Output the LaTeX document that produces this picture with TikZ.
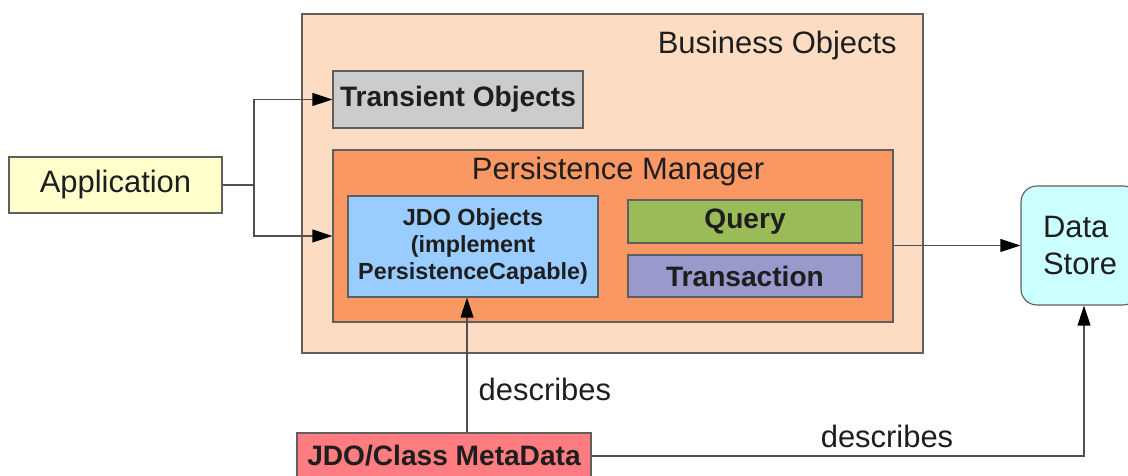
\documentclass[tikz,border=0pt]{standalone}
\usepackage{fontspec}
\setmainfont{Liberation Sans}
\usetikzlibrary{arrows.meta}

\definecolor{rahmen}{RGB}{95,95,95}
\definecolor{linie}{RGB}{80,80,80}
\definecolor{schrift}{RGB}{30,30,30}
\definecolor{pfirsich}{RGB}{252,220,194}
\definecolor{orange}{RGB}{250,152,100}
\definecolor{hellgrau}{RGB}{204,204,204}
\definecolor{hellblau}{RGB}{153,204,255}
\definecolor{gruen}{RGB}{155,187,89}
\definecolor{lila}{RGB}{153,153,204}
\definecolor{hellgelb}{RGB}{255,255,204}
\definecolor{hellcyan}{RGB}{204,255,255}
\definecolor{lachs}{RGB}{255,124,128}

\tikzset{
    kasten/.style={draw=rahmen, line width=0.8pt, inner sep=0pt, text=schrift},
    normal/.style={font=\fontsize{22}{26}\selectfont, text=schrift},
    fett/.style={font=\fontsize{20}{24}\selectfont\bfseries},
    pfeil/.style={draw=linie, line width=1pt, -{Triangle[length=5mm,width=3.2mm,color=black]}},
}

\begin{document}
\begin{tikzpicture}
        \useasboundingbox (0,0) rectangle (28.2,11.9);

        % Business Objects als grosser Rahmen
        \node[kasten, fill=pfirsich, minimum width=15.525cm, minimum height=8.475cm] (bo) at (15.3125,7.3125) {};
        \node[normal, anchor=east, inner sep=0pt] (botitel) at (22.425,10.75) {Business Objects};
        \node[kasten, fill=hellgrau, fett, minimum width=6.25cm, minimum height=1.425cm] (trans) at (11.45,9.4125) {Transient Objects};

        % Persistence Manager mit seinen Teilen
        \node[kasten, fill=orange, minimum width=14cm, minimum height=4.3cm] (pm) at (15.325,6.0) {};
        \node[normal] (pmtitel) at (15.45,7.6) {Persistence Manager};
        \node[kasten, fill=hellblau, align=center, font=\fontsize{16.6}{19.5}\selectfont\bfseries,
              minimum width=6.25cm, minimum height=2.525cm] (jdo) at (11.825,5.7375) {JDO Objects\\(implement\\PersistenceCapable)};
        \node[kasten, fill=gruen, fett, minimum width=5.85cm, minimum height=1.075cm] (query) at (18.625,6.3625) {Query};
        \node[kasten, fill=lila, fett, minimum width=5.85cm, minimum height=1.05cm] (ta) at (18.625,5.0) {Transaction};

        % Anwendung, Datenspeicher und Metadaten
        \node[kasten, fill=hellgelb, normal, minimum width=5.325cm, minimum height=1.4cm] (app) at (2.8875,7.275) {Application};
        \node[kasten, fill=hellcyan, rounded corners=0.4cm, normal, align=left,
              minimum width=2.95cm, minimum height=2.975cm] (ds) at (27.0,5.7625) {Data\\Store};
        \node[kasten, fill=lachs, fett, minimum width=7.35cm, minimum height=1.15cm] (meta) at (11.1,0.5) {JDO/Class MetaData};

        % Verbindungen
        \coordinate (verzw) at (6.35,7.275);
        \coordinate (jdounten) at ([xshift=-1.5mm]jdo.south);
        \coordinate (ecke) at (27.1,0.5);
        \draw[pfeil] (app.east) -- (verzw) |- (trans.west);
        \draw[pfeil] (verzw) |- (pm.west);
        \draw[pfeil] (pm.east |- ds.west) -- (ds.west);
        \draw[pfeil] (meta.north -| jdounten) -- (jdounten)
            node[normal, pos=0.32, anchor=west, inner sep=0pt, xshift=2.75mm] {describes};
        \draw[pfeil] (meta.east) -- (ecke)
            node[normal, pos=0.6, anchor=south, inner sep=0pt, yshift=1.9mm] {describes}
            -- (ecke |- ds.south);

\end{tikzpicture}
\end{document}
